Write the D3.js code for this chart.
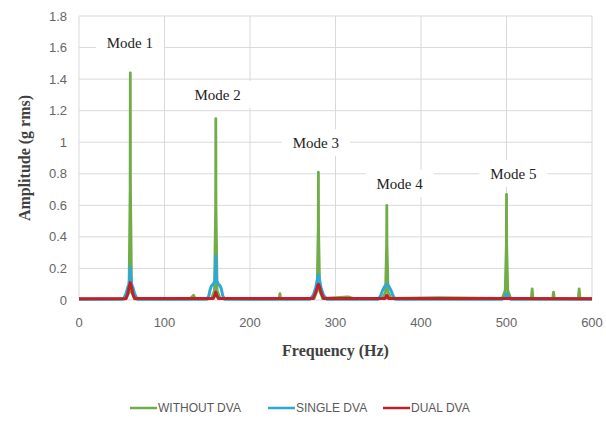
<!DOCTYPE html>
<html>
<head>
<meta charset="utf-8">
<script src="https://cdn.jsdelivr.net/npm/d3@7"></script>
<style>
  body { margin: 0; background: #fff; }
  svg { display: block; }
</style>
</head>
<body>
<div id="chart"></div>
<script>
// frequency (Hz), amplitude (g rms)
const withoutDva = [
  [0, 0.005], [20, 0.006], [40, 0.005], [55, 0.008], [58.5, 0.05], [59.8, 0.7], [60, 1.44],
  [60.2, 0.7], [61.5, 0.05], [65, 0.008], [100, 0.006], [130, 0.008], [134, 0.03], [136, 0.008],
  [155, 0.01], [158.5, 0.06], [159.8, 0.6], [160, 1.15], [160.2, 0.6], [161.5, 0.06], [165, 0.01],
  [200, 0.006], [234, 0.008], [235, 0.04], [236, 0.008], [275, 0.01], [278.5, 0.06], [279.8, 0.45],
  [280, 0.81], [280.2, 0.45], [281.5, 0.06], [285, 0.01], [300, 0.015], [315, 0.02], [320, 0.01],
  [355, 0.01], [358.5, 0.05], [359.8, 0.35], [360, 0.6], [360.2, 0.35], [361.5, 0.05], [365, 0.01],
  [420, 0.015], [495, 0.01], [498.5, 0.06], [499.8, 0.35], [500, 0.67], [500.2, 0.35], [501.5, 0.06],
  [505, 0.01], [529, 0.01], [530, 0.07], [531, 0.01], [554, 0.01], [555, 0.05], [556, 0.01],
  [584, 0.01], [585, 0.07], [586, 0.01], [600, 0.01]
];
const singleDva = [
  [0, 0.005], [52, 0.005], [55, 0.04], [57, 0.08], [58.5, 0.1], [59.5, 0.15], [60, 0.21],
  [60.5, 0.15], [61.5, 0.1], [63, 0.08], [65, 0.04], [68, 0.005], [150, 0.005], [152, 0.03],
  [153.5, 0.07], [155, 0.09], [157, 0.1], [159, 0.12], [160, 0.28], [161, 0.12], [163, 0.1],
  [165, 0.09], [166.5, 0.07], [168, 0.03], [170, 0.005], [270, 0.005], [274, 0.03], [277, 0.08],
  [279.5, 0.15], [280, 0.16], [280.5, 0.15], [283, 0.08], [286, 0.03], [290, 0.005],
  [350, 0.005], [353, 0.03], [355, 0.06], [358, 0.09], [360, 0.1], [362, 0.09], [365, 0.06],
  [367, 0.03], [370, 0.005], [495, 0.005], [498, 0.02], [500, 0.04], [502, 0.02], [505, 0.005],
  [600, 0.005]
];
const dualDva = [
  [0, 0.008], [55, 0.01], [57, 0.04], [59, 0.09], [60, 0.11], [61, 0.09], [63, 0.04], [65, 0.01],
  [157, 0.01], [159, 0.03], [160, 0.05], [161, 0.03], [163, 0.01], [274, 0.01], [277, 0.05],
  [279, 0.09], [280, 0.1], [281, 0.09], [283, 0.05], [286, 0.01], [358, 0.01], [360, 0.03],
  [362, 0.01], [600, 0.008]
];

const seriesNames = ["WITHOUT DVA", "SINGLE DVA", "DUAL DVA"];
const seriesColors = ["#70ad47", "#2ea8d6", "#c0202a"];
const xTicks = [0, 100, 200, 300, 400, 500, 600];
const yTicks = [0, 0.2, 0.4, 0.6, 0.8, 1, 1.2, 1.4, 1.6, 1.8];
const modeLabels = ["Mode 1", "Mode 2", "Mode 3", "Mode 4", "Mode 5"];
const modePos = [[59.5, 1.63], [162, 1.30], [277, 0.995], [375, 0.735], [508, 0.8]];

const width = 606, height = 421;
const margin = { top: 16, right: 14, bottom: 121, left: 79 };

const svg = d3.select("#chart").append("svg")
  .attr("width", width)
  .attr("height", height);

const xScale = d3.scaleLinear().domain([0, 600]).range([margin.left, width - margin.right]);
const yScale = d3.scaleLinear().domain([0, 1.8]).range([height - margin.bottom, margin.top]);

// gridlines
svg.append("g")
  .selectAll("line")
  .data(yTicks)
  .join("line")
  .attr("x1", xScale(0)).attr("x2", xScale(600))
  .attr("y1", d => yScale(d)).attr("y2", d => yScale(d))
  .attr("stroke", "#d9d9d9").attr("stroke-width", 1);

svg.append("g")
  .selectAll("line")
  .data(xTicks)
  .join("line")
  .attr("x1", d => xScale(d)).attr("x2", d => xScale(d))
  .attr("y1", yScale(0)).attr("y2", yScale(1.8))
  .attr("stroke", "#d9d9d9").attr("stroke-width", 1);

// tick labels
svg.append("g")
  .selectAll("text")
  .data(yTicks)
  .join("text")
  .attr("x", xScale(0) - 12)
  .attr("y", d => yScale(d))
  .attr("dy", "0.35em")
  .attr("text-anchor", "end")
  .attr("font-family", "Liberation Sans, Arial, sans-serif")
  .attr("font-size", 13)
  .attr("fill", "#666")
  .text(d => d);

svg.append("g")
  .selectAll("text")
  .data(xTicks)
  .join("text")
  .attr("x", d => xScale(d))
  .attr("y", yScale(0) + 27)
  .attr("text-anchor", "middle")
  .attr("font-family", "Liberation Sans, Arial, sans-serif")
  .attr("font-size", 13)
  .attr("fill", "#666")
  .text(d => d);

// mode labels with white boxes
const modes = svg.append("g");
modeLabels.forEach((lab, i) => {
  const [f, a] = modePos[i];
  const g = modes.append("g").attr("transform", `translate(${xScale(f)},${yScale(a)})`);
  g.append("rect")
    .attr("x", -34).attr("y", -14).attr("width", 68).attr("height", 27)
    .attr("fill", "#fff");
  g.append("text")
    .attr("text-anchor", "middle")
    .attr("dy", "0.35em")
    .attr("font-family", "Liberation Serif, Times New Roman, serif")
    .attr("font-size", 15)
    .attr("fill", "#222")
    .text(lab);
});

// lines
const line = d3.line()
  .x(d => xScale(d[0]))
  .y(d => yScale(d[1]));

const allSeries = [withoutDva, singleDva, dualDva];
const widths = [2.8, 3, 3];
svg.append("g")
  .selectAll("path")
  .data(allSeries)
  .join("path")
  .attr("d", line)
  .attr("fill", "none")
  .attr("stroke", (d, i) => seriesColors[i])
  .attr("stroke-width", (d, i) => widths[i])
  .attr("stroke-linejoin", "round");

// axis titles
svg.append("text")
  .attr("transform", `translate(24,${(yScale(0) + yScale(1.8)) / 2}) rotate(-90)`)
  .attr("text-anchor", "middle")
  .attr("dy", "0.35em")
  .attr("font-family", "Liberation Serif, Times New Roman, serif")
  .attr("font-weight", "bold")
  .attr("font-size", 16)
  .attr("fill", "#404040")
  .text("Amplitude (g rms)");

svg.append("text")
  .attr("x", (xScale(0) + xScale(600)) / 2)
  .attr("y", 356)
  .attr("text-anchor", "middle")
  .attr("font-family", "Liberation Serif, Times New Roman, serif")
  .attr("font-weight", "bold")
  .attr("font-size", 16)
  .attr("fill", "#404040")
  .text("Frequency (Hz)");

// legend
const legendX = [130, 268, 383];
const legend = svg.append("g");
seriesNames.forEach((name, i) => {
  const g = legend.append("g").attr("transform", `translate(${legendX[i]},408)`);
  g.append("line")
    .attr("x1", 0).attr("x2", 27)
    .attr("stroke", seriesColors[i]).attr("stroke-width", 2.5);
  g.append("text")
    .attr("x", 28)
    .attr("dy", "0.35em")
    .attr("font-family", "Liberation Sans Narrow, Liberation Sans, Arial, sans-serif")
    .attr("font-size", 12)
    .attr("fill", "#595959")
    .text(name);
});
</script>
</body>
</html>
